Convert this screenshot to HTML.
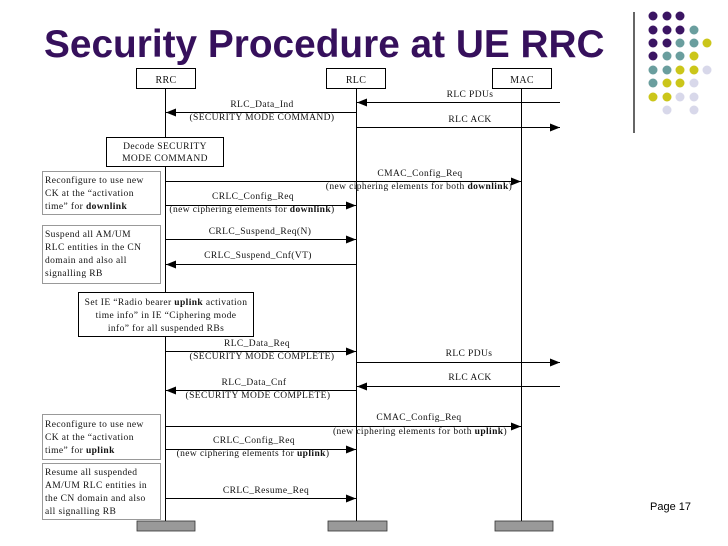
<!DOCTYPE html>
<html><head><meta charset="utf-8"><style>
html,body{margin:0;padding:0;background:#fff;}
svg{display:block;}
.t{font-family:"Liberation Serif",serif;font-size:9.5px;fill:#111;letter-spacing:0.4px;}
.l{font-family:"Liberation Serif",serif;font-size:10px;fill:#111;letter-spacing:0.3px;}
</style></head><body>
<svg width="728" height="546" xmlns="http://www.w3.org/2000/svg">
<defs>
<marker id="a" markerWidth="10" markerHeight="8" refX="10" refY="4" orient="auto" markerUnits="userSpaceOnUse"><path d="M0,0 L10,4 L0,8 z" fill="#000"/></marker>
</defs>
<text x="44" y="57" font-family="Liberation Sans,sans-serif" font-weight="bold" font-size="38.8" fill="#36105c">Security Procedure at UE RRC</text>
<line x1="634" y1="12" x2="634" y2="133" stroke="#000" stroke-width="1.2"/>
<g>
<circle cx="653" cy="16" r="4.5" fill="#3b1563"/><circle cx="667" cy="16" r="4.5" fill="#3b1563"/><circle cx="680" cy="16" r="4.5" fill="#3b1563"/>
<circle cx="653" cy="30" r="4.5" fill="#3b1563"/><circle cx="667" cy="30" r="4.5" fill="#3b1563"/><circle cx="680" cy="30" r="4.5" fill="#3b1563"/><circle cx="694" cy="30" r="4.5" fill="#6a9e9e"/>
<circle cx="653" cy="43" r="4.5" fill="#3b1563"/><circle cx="667" cy="43" r="4.5" fill="#3b1563"/><circle cx="680" cy="43" r="4.5" fill="#6a9e9e"/><circle cx="694" cy="43" r="4.5" fill="#6a9e9e"/><circle cx="707" cy="43" r="4.5" fill="#cbc61a"/>
<circle cx="653" cy="56" r="4.5" fill="#3b1563"/><circle cx="667" cy="56" r="4.5" fill="#6a9e9e"/><circle cx="680" cy="56" r="4.5" fill="#6a9e9e"/><circle cx="694" cy="56" r="4.5" fill="#cbc61a"/>
<circle cx="653" cy="70" r="4.5" fill="#6a9e9e"/><circle cx="667" cy="70" r="4.5" fill="#6a9e9e"/><circle cx="680" cy="70" r="4.5" fill="#cbc61a"/><circle cx="694" cy="70" r="4.5" fill="#cbc61a"/><circle cx="707" cy="70" r="4.5" fill="#d8d8ea"/>
<circle cx="653" cy="83" r="4.5" fill="#6a9e9e"/><circle cx="667" cy="83" r="4.5" fill="#cbc61a"/><circle cx="680" cy="83" r="4.5" fill="#cbc61a"/><circle cx="694" cy="83" r="4.5" fill="#d8d8ea"/>
<circle cx="653" cy="97" r="4.5" fill="#cbc61a"/><circle cx="667" cy="97" r="4.5" fill="#cbc61a"/><circle cx="680" cy="97" r="4.5" fill="#d8d8ea"/><circle cx="694" cy="97" r="4.5" fill="#d8d8ea"/>
<circle cx="667" cy="110" r="4.5" fill="#d8d8ea"/><circle cx="694" cy="110" r="4.5" fill="#d8d8ea"/>
</g>
<text x="650" y="510" font-family="Liberation Sans,sans-serif" font-size="11" fill="#000">Page 17</text>

<g stroke="#000" fill="#fff" stroke-width="1">
<rect x="136.5" y="68.5" width="59" height="20"/>
<rect x="326.5" y="68.5" width="59" height="20"/>
<rect x="492.5" y="68.5" width="59" height="20"/>
</g>
<text x="166" y="83" class="l" font-size="12" text-anchor="middle">RRC</text>
<text x="356" y="83" class="l" font-size="12" text-anchor="middle">RLC</text>
<text x="522" y="83" class="l" font-size="12" text-anchor="middle">MAC</text>
<g stroke="#000" stroke-width="1">
<line x1="165.5" y1="88" x2="165.5" y2="522"/>
<line x1="356.5" y1="88" x2="356.5" y2="522"/>
<line x1="521.5" y1="88" x2="521.5" y2="522"/>
</g>
<g fill="#999" stroke="#333" stroke-width="0.8">
<rect x="137" y="521" width="58" height="10"/>
<rect x="328" y="521" width="59" height="10"/>
<rect x="495" y="521" width="58" height="10"/>
</g>

<g stroke="#000" stroke-width="1" marker-end="url(#a)">
<line x1="560" y1="102.5" x2="357" y2="102.5"/>
<line x1="356" y1="112.5" x2="166" y2="112.5"/>
<line x1="357" y1="127.5" x2="560" y2="127.5"/>
<line x1="166" y1="181.5" x2="521" y2="181.5"/>
<line x1="166" y1="205.5" x2="356" y2="205.5"/>
<line x1="166" y1="239.5" x2="356" y2="239.5"/>
<line x1="356" y1="264.5" x2="166" y2="264.5"/>
<line x1="166" y1="351.5" x2="356" y2="351.5"/>
<line x1="357" y1="362.5" x2="560" y2="362.5"/>
<line x1="560" y1="386.5" x2="357" y2="386.5"/>
<line x1="356" y1="390.5" x2="166" y2="390.5"/>
<line x1="166" y1="426.5" x2="521" y2="426.5"/>
<line x1="166" y1="449.5" x2="356" y2="449.5"/>
<line x1="166" y1="498.5" x2="356" y2="498.5"/>
</g>

<g class="t" text-anchor="middle">
<text x="470" y="97" class="t">RLC PDUs</text>
<text x="262" y="107" class="t">RLC_Data_Ind</text>
<text x="262" y="120" class="t">(SECURITY MODE COMMAND)</text>
<text x="470" y="122" class="t">RLC ACK</text>
<text x="420" y="176" class="t">CMAC_Config_Req</text>
<text x="419" y="189" class="t">(new ciphering elements for both <tspan font-weight="bold">downlink</tspan>)</text>
<text x="253" y="199" class="t">CRLC_Config_Req</text>
<text x="252" y="212" class="t">(new ciphering elements for <tspan font-weight="bold">downlink</tspan>)</text>
<text x="260" y="234" class="t">CRLC_Suspend_Req(N)</text>
<text x="258" y="258" class="t">CRLC_Suspend_Cnf(VT)</text>
<text x="257" y="346" class="t">RLC_Data_Req</text>
<text x="262" y="359" class="t">(SECURITY MODE COMPLETE)</text>
<text x="469" y="356" class="t">RLC PDUs</text>
<text x="470" y="380" class="t">RLC ACK</text>
<text x="254" y="385" class="t">RLC_Data_Cnf</text>
<text x="258" y="398" class="t">(SECURITY MODE COMPLETE)</text>
<text x="419" y="420" class="t">CMAC_Config_Req</text>
<text x="420" y="434" class="t">(new ciphering elements for both <tspan font-weight="bold">uplink</tspan>)</text>
<text x="254" y="443" class="t">CRLC_Config_Req</text>
<text x="253" y="456" class="t">(new ciphering elements for <tspan font-weight="bold">uplink</tspan>)</text>
<text x="266" y="493" class="t">CRLC_Resume_Req</text>
</g>

<rect x="106.5" y="137.5" width="117" height="29" fill="#fff" stroke="#000"/>
<text x="165" y="149" class="t" text-anchor="middle">Decode SECURITY</text>
<text x="165" y="161" class="t" text-anchor="middle">MODE COMMAND</text>

<g fill="#fff" stroke="#333" stroke-width="1" stroke-dasharray="1,1">
<rect x="42.5" y="171.5" width="118" height="43"/>
<rect x="42.5" y="225.5" width="118" height="58"/>
<rect x="42.5" y="414.5" width="118" height="45"/>
<rect x="42.5" y="463.5" width="118" height="56"/>
</g>
<g class="t">
<text x="45" y="183" class="t">Reconfigure to use new</text>
<text x="45" y="196" class="t">CK at the “activation</text>
<text x="45" y="209" class="t">time” for <tspan font-weight="bold">downlink</tspan></text>
<text x="45" y="237" class="t">Suspend all AM/UM</text>
<text x="45" y="250" class="t">RLC entities in the CN</text>
<text x="45" y="263" class="t">domain and also all</text>
<text x="45" y="276" class="t">signalling RB</text>
<text x="45" y="427" class="t">Reconfigure to use new</text>
<text x="45" y="440" class="t">CK at the “activation</text>
<text x="45" y="453" class="t">time” for <tspan font-weight="bold">uplink</tspan></text>
<text x="45" y="475" class="t">Resume all suspended</text>
<text x="45" y="488" class="t">AM/UM RLC entities in</text>
<text x="45" y="501" class="t">the CN domain and also</text>
<text x="45" y="514" class="t">all signalling RB</text>
</g>
<rect x="78.5" y="292.5" width="175" height="44" fill="#fff" stroke="#000"/>
<text x="166" y="305" class="t" text-anchor="middle">Set IE “Radio bearer <tspan font-weight="bold">uplink</tspan> activation</text>
<text x="166" y="318" class="t" text-anchor="middle">time info” in IE “Ciphering mode</text>
<text x="166" y="331" class="t" text-anchor="middle">info” for all suspended RBs</text>
</svg>
</body></html>
